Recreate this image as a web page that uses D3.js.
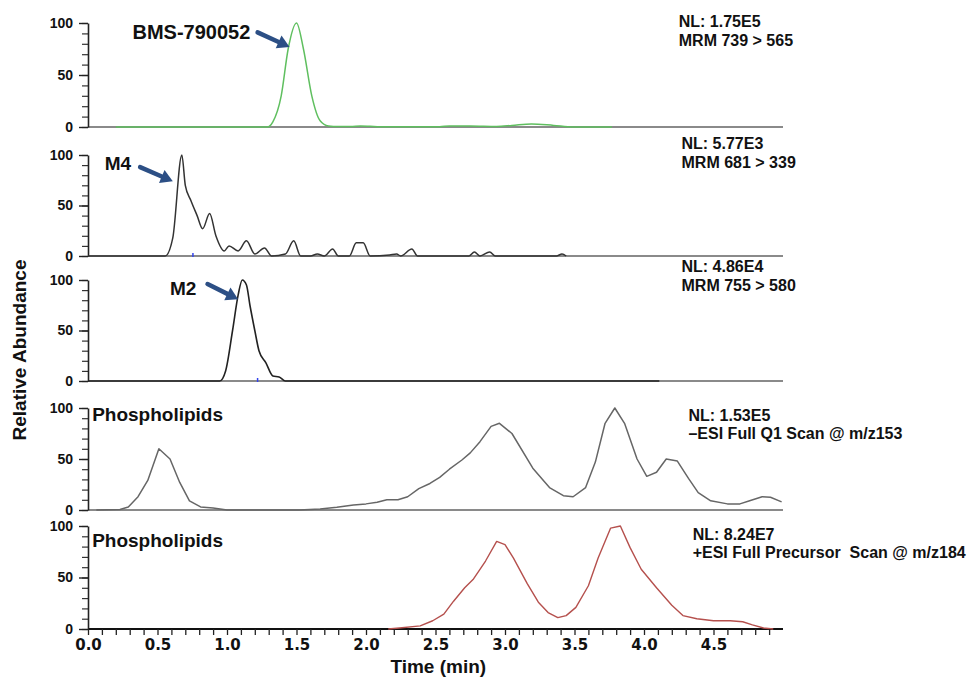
<!DOCTYPE html>
<html><head><meta charset="utf-8">
<script src="https://cdn.jsdelivr.net/npm/d3@7"></script>
<style>body{margin:0;background:#fff}svg{display:block}</style>
</head><body><svg id="c" width="971" height="680"></svg>
<script>
// ---------- data ----------
const xTickLabels = ["0.0","0.5","1.0","1.5","2.0","2.5","3.0","3.5","4.0","4.5"];
const yTickLabels = ["0","50","100"];

const bmsTime  = [0.2,1.29,1.33,1.39,1.44,1.50,1.55,1.61,1.67,1.73,1.80,1.89,1.96,2.03,2.1,2.53,2.6,2.75,2.94,3.05,3.19,3.35,3.49,3.77];
const bmsAbund = [0,0,5,30,75,100,75,30,6,1,0.5,0.5,1,0.7,0.3,0.3,1,1,0.5,1.5,3,1.5,0,0];

const m4Time  = [0,0.555,0.61,0.675,0.70,0.74,0.785,0.825,0.875,0.92,0.98,1.015,1.08,1.14,1.2,1.27,1.32,1.42,1.48,1.53,1.6,1.65,1.7,1.76,1.8,1.88,1.93,1.98,2.03,2.17,2.22,2.25,2.33,2.37,2.74,2.78,2.82,2.89,2.93,3.37,3.41,3.44];
const m4Abund = [0,0,18,100,70,55,40,27,42,20,5,10,5,15,2,8,0,2,15,0,0,2,0,7,0,0,13,13,0,1,2,0,7,0,0,4,0,4,0,0,2,0];

const m2Time  = [0,0.947,0.99,1.04,1.08,1.11,1.14,1.165,1.2,1.23,1.28,1.33,1.375,1.42,4.11];
const m2Abund = [0,0,10,50,85,100,95,75,50,30,18,5,4,0,0];

const q1Time  = [0.06,0.23,0.29,0.36,0.43,0.51,0.59,0.66,0.73,0.81,0.90,1.0,1.52,1.67,1.79,1.91,2.0,2.08,2.15,2.23,2.30,2.38,2.46,2.53,2.60,2.69,2.75,2.82,2.90,2.96,3.05,3.20,3.32,3.42,3.49,3.58,3.65,3.72,3.79,3.86,3.95,4.02,4.09,4.16,4.24,4.32,4.39,4.48,4.60,4.69,4.76,4.85,4.91,4.99];
const q1Abund = [0,0.5,3,13,29,60,50,27,9,3,2,0,0,1,2.6,5,6,7.6,10,10,13,21,26,32,40,49,56,67,82,85,75,41,22,14,13,22,47,85,100,85,50,33,37,50,48,31,17,9,6,6,9,13,12.5,8];

const precTime  = [2.16,2.24,2.39,2.48,2.56,2.63,2.71,2.77,2.86,2.94,3.0,3.06,3.16,3.24,3.31,3.38,3.44,3.51,3.6,3.67,3.76,3.83,3.90,3.98,4.09,4.20,4.28,4.38,4.5,4.62,4.71,4.78,4.86,4.93];
const precAbund = [0,1,3,8,14.5,27,40,48,66,85,82,69,44,26,16,11,13,21,42,69,98,100,79,58,40,23,13,10,8,8,7,4,1,0];

const panelNL   = ["NL: 1.75E5","NL: 5.77E3","NL: 4.86E4","NL: 1.53E5","NL: 8.24E7"];
const panelScan = ["MRM 739 > 565","MRM 681 > 339","MRM 755 > 580","\u2013ESI Full Q1 Scan @ m/z153","+ESI Full Precursor  Scan @ m/z184"];
const panelName = ["BMS-790052","M4","M2","Phospholipids","Phospholipids"];
// label position [time, abundance], arrow [fromTime, fromAbund, toTime, toAbund]
const nameAt   = [[0.32,92],[0.12,92],[0.59,92],[0.03,94],[0.03,86]];
const arrowAt  = [[1.22,91,1.45,77],[0.375,88,0.61,74],[0.86,96,1.08,81],null,null];
const nlAt     = [[4.25,102],[4.27,112],[4.27,114],[4.32,93],[4.35,92]];
const blueMarks = [null,0.755,1.22,null,null];

// ---------- layout ----------
const svg = d3.select("#c");
const x = d3.scaleLinear().domain([0, 5.0]).range([88, 783]);
const panels = [
  {top:23,  bottom:127, t:bmsTime,  v:bmsAbund,  color:"#5fbf5f", w:1.5, curve:d3.curveMonotoneX},
  {top:155, bottom:256, t:m4Time,   v:m4Abund,   color:"#333",    w:1.5, curve:d3.curveMonotoneX},
  {top:280, bottom:381, t:m2Time,   v:m2Abund,   color:"#222",    w:1.6, curve:d3.curveMonotoneX},
  {top:408, bottom:510, t:q1Time,   v:q1Abund,   color:"#666",    w:1.5, curve:d3.curveLinear},
  {top:526, bottom:629, t:precTime, v:precAbund, color:"#b5504d", w:1.4, curve:d3.curveLinear}
];

const F = "'Liberation Sans', Arial, Helvetica, sans-serif";

panels.forEach((p, i) => {
  const g = svg.append("g");
  const y = d3.scaleLinear().domain([0, 100]).range([p.bottom, p.top]);

  // baseline
  g.append("line")
    .attr("x1", x(0)).attr("x2", x(5.0))
    .attr("y1", y(0)).attr("y2", y(0))
    .attr("stroke", i === 4 ? "#111" : "#8a8a8a").attr("stroke-width", 2);

  // minor y ticks
  g.append("g").attr("transform", `translate(${x(0)},0)`)
    .call(d3.axisLeft(y).tickValues(d3.range(0, 101, 10)).tickSize(6).tickFormat(""))
    .call(a => a.select(".domain").remove())
    .call(a => a.selectAll("line").attr("stroke", "#333").attr("stroke-width", 1.2));
  // major y ticks + labels
  g.append("g").attr("transform", `translate(${x(0)},0)`)
    .call(d3.axisLeft(y).tickValues(yTickLabels.map(Number)).tickSize(9).tickSizeOuter(0).tickPadding(6).tickFormat((d, k) => yTickLabels[k]))
    .call(a => a.select(".domain").attr("stroke", "#222").attr("stroke-width", 1.6))
    .call(a => a.selectAll("line").attr("stroke", "#222").attr("stroke-width", 1.4))
    .call(a => a.selectAll("text").attr("font-family", F).attr("font-weight", "bold").attr("font-size", 14).attr("fill", "#111"));

  // data line
  const pts = p.t.map((t, k) => [t, p.v[k]]);
  g.append("path").datum(pts)
    .attr("fill", "none").attr("stroke", p.color).attr("stroke-width", p.w)
    .attr("stroke-linejoin", "round")
    .attr("d", d3.line().x(d => x(d[0])).y(d => y(d[1])).curve(p.curve));

  // blue marker tick
  if (blueMarks[i] !== null) {
    g.append("line").attr("x1", x(blueMarks[i])).attr("x2", x(blueMarks[i]))
      .attr("y1", y(0) - 3).attr("y2", y(0) + 1).attr("stroke", "#3344ee").attr("stroke-width", 1.5);
  }

  // name label
  g.append("text")
    .attr("x", x(nameAt[i][0])).attr("y", y(nameAt[i][1]))
    .attr("dy", "0.36em")
    .attr("font-family", F).attr("font-weight", "bold").attr("font-size", i === 0 ? 20 : 19).attr("fill", "#111")
    .text(panelName[i]);

  // arrow
  if (arrowAt[i]) {
    const [t0, v0, t1, v1] = arrowAt[i];
    const X0 = x(t0), Y0 = y(v0), X1 = x(t1), Y1 = y(v1);
    const ang = Math.atan2(Y1 - Y0, X1 - X0);
    const hl = 12, hw = 7;
    const bx = X1 - hl * Math.cos(ang), by = Y1 - hl * Math.sin(ang);
    g.append("line").attr("x1", X0).attr("y1", Y0).attr("x2", bx).attr("y2", by)
      .attr("stroke", "#2c4f85").attr("stroke-width", 4.5).attr("stroke-linecap", "round");
    g.append("path")
      .attr("d", `M${X1},${Y1}L${bx - hw * Math.sin(ang)},${by + hw * Math.cos(ang)}L${bx + hw * Math.sin(ang)},${by - hw * Math.cos(ang)}Z`)
      .attr("fill", "#2c4f85");
  }

  // NL labels
  const nl = g.append("text").attr("x", x(nlAt[i][0])).attr("y", y(nlAt[i][1]))
    .attr("font-family", F).attr("font-weight", "bold").attr("font-size", 16).attr("fill", "#111")
    .style("white-space", "pre");
  nl.append("tspan").attr("x", x(nlAt[i][0])).attr("dy", "0.36em").text(panelNL[i]);
  nl.append("tspan").attr("x", x(nlAt[i][0])).attr("dy", i >= 3 ? "1.1em" : "1.2em").text(panelScan[i]);

  // bottom time axis on last panel
  if (i === 4) {
    const minor = d3.range(0, 50).map(k => k / 10);
    g.append("g").attr("transform", `translate(0,${y(0)})`)
      .call(d3.axisBottom(x).tickValues(minor).tickSize(6).tickFormat(""))
      .call(a => a.select(".domain").remove())
      .call(a => a.selectAll("line").attr("stroke", "#222").attr("stroke-width", 1.3));
    g.append("g").attr("transform", `translate(0,${y(0)})`)
      .call(d3.axisBottom(x).tickValues(xTickLabels.map(Number)).tickSize(0).tickPadding(10).tickFormat((d, k) => xTickLabels[k]))
      .call(a => a.select(".domain").remove())
      .call(a => a.selectAll("text").attr("font-family", "'DejaVu Sans', Verdana, sans-serif").attr("font-weight", "bold").attr("font-size", 15).attr("fill", "#111"));
  }
});

// axis titles
svg.append("text")
  .attr("transform", `translate(26,350) rotate(-90)`)
  .attr("text-anchor", "middle")
  .attr("font-family", F).attr("font-weight", "bold").attr("font-size", 19).attr("fill", "#111")
  .text("Relative Abundance");
svg.append("text")
  .attr("x", x(2.52)).attr("y", 673)
  .attr("text-anchor", "middle")
  .attr("font-family", F).attr("font-weight", "bold").attr("font-size", 19).attr("fill", "#111")
  .text("Time (min)");
</script>
</body></html>
